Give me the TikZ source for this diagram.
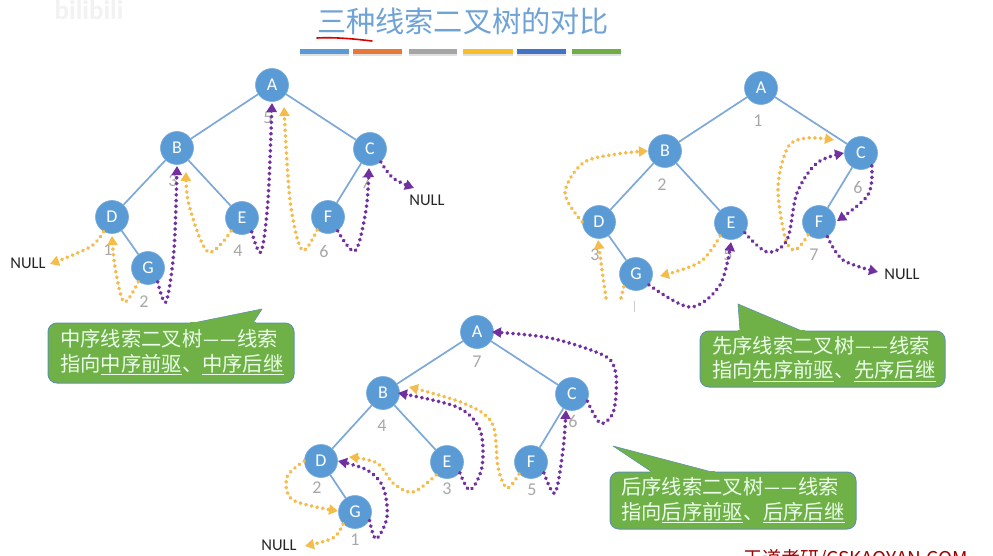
\documentclass[tikz,border=0pt]{standalone}
\usepackage{fontspec}
\setmainfont{Carlito}
\newfontfamily\cjk{Noto Sans CJK SC}
\usetikzlibrary{arrows.meta}
\definecolor{nodeblue}{HTML}{5B9BD5}
\definecolor{edgeblue}{HTML}{7DA9D8}
\definecolor{thy}{HTML}{F5BC4A}
\definecolor{thp}{HTML}{7030A0}
\definecolor{numgray}{HTML}{A8A8A8}
\definecolor{boxgreen}{HTML}{70B147}
\definecolor{boxline}{HTML}{5F93A8}
\definecolor{titleblue}{HTML}{6FA3D6}
\newcommand{\twodash}{\makebox[17.4pt]{\scalebox{.88}[1]{—}}\makebox[17.4pt]{\scalebox{.88}[1]{—}}}
\tikzset{
 x=1pt,y=-1pt,
 tn/.style={circle,fill=nodeblue,draw=nodeblue!85!white,line width=.6pt,minimum size=33pt,inner sep=0pt,text=white,font=\fontsize{18}{18}\selectfont},
 te/.style={edgeblue,line width=1.7pt},
 thr/.style={line width=3.8pt,line cap=round,dash pattern=on 0.3pt off 5.4pt,smooth,tension=.55},
 yt/.style={thr,thy,-{Triangle[length=9pt,width=10pt]}},
 pt/.style={thr,thp,-{Triangle[length=9pt,width=10pt]}},
 num/.style={text=numgray,font=\fontsize{18}{18}\selectfont,inner sep=0pt},
 nul/.style={text=black!85,font=\fontsize{16.5}{16.5}\selectfont,inner sep=0pt},
 box/.style={fill=boxgreen,draw=boxline,line width=1pt,rounded corners=9pt},
 ptr/.style={fill=boxgreen,draw=boxline,line width=.6pt,line join=round},
 ptrf/.style={fill=boxgreen,draw=none},
 btxt/.style={text=white!92!green,inner sep=0pt,align=left,font=\cjk\fontsize{20.3}{24.5}\selectfont},
}
\begin{document}
\begin{tikzpicture}
\useasboundingbox (0,0) rectangle (993,556);
\clip (0,0) rectangle (993,556);
\fill[white] (0,0) rectangle (993,556);
% faint logo
\node[text=black!5,font=\bfseries\fontsize{27}{27}\selectfont,inner sep=0pt] (logo) at (89,10) {bilibili};
% title
\node[text=titleblue,font=\cjk\fontsize{29.2}{29.2}\selectfont,inner sep=0pt] (title) at (463,21) {三种线索二叉树的对比};
\draw[red!85!black,line width=1.6pt,line cap=round] (317,38) .. controls (335,37) and (355,39) .. (372,41);
\foreach \a/\b/\c in {300/349/5B9BD5,353/402/E4793A,409/457/A5A5A5,463/513/F6BE2B,517/566/4472C4,572/621/70AD47}{
 \definecolor{barc}{HTML}{\c}
 \fill[black!12] (\a,52.5) rectangle (\b,56.5);
 \fill[barc] (\a,49.5) rectangle (\b,54.5);
}
% ---------- tree 1
\node[tn] (A1) at (272,85) {A};
\node[tn] (B1) at (177,148) {B};
\node[tn] (C1) at (370,149) {C};
\node[tn] (D1) at (112,217) {D};
\node[tn] (E1) at (242,218) {E};
\node[tn] (F1) at (328,217) {F};
\node[tn] (G1) at (148,268) {G};
\draw[te] (A1)--(B1) (A1)--(C1) (B1)--(D1) (B1)--(E1) (C1)--(F1) (D1)--(G1);
\foreach \n/\t/\x/\y in {a/1/108/250,b/2/144/302,c/3/173/181,d/4/238/251,e/5/268/118,f/6/324/251,g/7/366/183}
 \node[num] (n1\n) at (\x,\y) {\t};
\node[nul] (nulla) at (28,263) {NULL};
\node[nul] (nullb) at (427,200) {NULL};
\coordinate (ya) at (50,264);
\coordinate (pa) at (414,188);
\draw[yt] plot coordinates {(D1.-120) (90,247) (ya)};
\draw[yt] plot coordinates {(G1.-125) (124,302) (115,267) (112,236)};
\draw[yt] plot coordinates {(E1.-130) (208,252) (189,205) (186,172)};
\draw[yt] plot coordinates {(F1.-130) (302,250) (290,200) (284,107)};
\draw[pt] plot coordinates {(G1.-55) (166,302) (174,250) (177,166)};
\draw[pt] plot coordinates {(E1.-55) (261,252) (268,200) (272,103)};
\draw[pt] plot coordinates {(F1.-55) (355,251) (366,210) (369,168)};
\draw[pt] plot coordinates {(C1.-50) (393,178) (pa)};
% ---------- tree 2
\node[tn] (A2) at (761,88) {A};
\node[tn] (B2) at (665,151) {B};
\node[tn] (C2) at (861,153) {C};
\node[tn] (D2) at (599,222) {D};
\node[tn] (E2) at (731,223) {E};
\node[tn] (F2) at (819,222) {F};
\node[tn] (G2) at (636,274) {G};
\draw[te] (A2)--(B2) (A2)--(C2) (B2)--(D2) (B2)--(E2) (C2)--(F2) (D2)--(G2);
\foreach \n/\t/\x/\y in {a/1/758/121,b/2/662/185,c/3/595/255,e/5/728/255,f/6/858/187,g/7/814/255}
 \node[num] (n2\n) at (\x,\y) {\t};
\draw[numgray!60,line width=.7pt] (634.5,301) -- (634.5,312);
\node[nul] (nullc) at (902,274) {NULL};
\coordinate (yb) at (660,276);
\coordinate (yc) at (834,140);
\coordinate (yd) at (606,298);
\coordinate (ye) at (621,298);
\coordinate (pb) at (878,272);
\draw[yt] plot coordinates {(D2.180) (565,193) (583,163) (617,154) (648,151)};
\draw[yt] plot coordinates {(yd) (602,270) (598,240)};
\draw[thr,thy] plot coordinates {(ye) (624,286)};
\draw[yt] plot coordinates {(E2.-130) (700,262) (yb)};
\draw[yt] plot coordinates {(F2.-130) (795,250) (785,237) (778,187) (788,147) (807,138) (yc)};
\draw[pt] plot coordinates {(E2.-35) (767,252) (787,240) (797,193) (817,163) (844,153)};
\draw[pt] plot coordinates {(G2.-40) (690,307) (720,285) (731,242)};
\draw[pt] plot coordinates {(C2.-50) (868,195) (837,221)};
\draw[pt] plot coordinates {(F2.-60) (843,260) (pb)};
% ---------- tree 3
\node[tn] (A3) at (477,332) {A};
\node[tn] (B3) at (383,393) {B};
\node[tn] (C3) at (572,394) {C};
\node[tn] (D3) at (321,461) {D};
\node[tn] (E3) at (447,462) {E};
\node[tn] (F3) at (531,462) {F};
\node[tn] (G3) at (355,512) {G};
\draw[te] (A3)--(B3) (A3)--(C3) (B3)--(D3) (B3)--(E3) (C3)--(F3) (D3)--(G3);
\foreach \n/\t/\x/\y in {a/1/355/540,b/2/317/488,c/3/447/489,d/4/382/426,e/5/532/490,f/6/573/421,g/7/477/362}
 \node[num] (n3\n) at (\x,\y) {\t};
\node[nul] (nulld) at (279,545) {NULL};
\coordinate (yf) at (305,546);
\coordinate (yg) at (349,457);
\coordinate (yh) at (409,387);
\draw[yt] plot coordinates {(D3.180) (287,477) (293,500) (338,511)};
\draw[yt] plot coordinates {(G3.-135) (333,538) (yf)};
\draw[yt] plot coordinates {(E3.-130) (413,492) (393,483) (377,463) (yg)};
\draw[yt] plot coordinates {(F3.-135) (507,488) (498,467) (492,423) (463,403) (yh)};
\draw[pt] plot coordinates {(E3.-40) (470,490) (482,467) (480,430) (457,407) (398,393)};
\draw[pt] plot coordinates {(G3.-30) (376,539) (387,517) (383,487) (367,470) (338,461)};
\draw[pt] plot coordinates {(F3.-40) (555,493) (563,450) (566,410)};
\draw[pt] plot coordinates {(C3.-25) (600,423) (612,415) (616,395) (615,370) (603,355) (550,338) (492,332)};
% ---------- callouts
\draw[box] (48,323) rectangle (294,383);
\draw[ptr] (193,323) -- (262,309) -- (253,323);
\fill[ptrf] (190,322) -- (256,322) -- (256,325) -- (190,325) -- cycle;
\node[btxt,anchor=west] (t1) at (60,352.5) {中序线索二叉树\twodash{}线索\\指向\underline{中序前驱}、\underline{中序后继}};
\draw[box] (700,331) rectangle (945,387);
\draw[ptr] (740,331) -- (738,304) -- (802,331);
\fill[ptrf] (738,330) -- (805,330) -- (805,333) -- (738,333) -- cycle;
\node[btxt,anchor=west] (t2) at (712,359) {先序线索二叉树\twodash{}线索\\指向\underline{先序前驱}、\underline{先序后继}};
\draw[box] (610,472) rectangle (856,529);
\draw[ptr] (652,472) -- (613,446) -- (712,472);
\fill[ptrf] (650,471) -- (715,471) -- (715,474) -- (650,474) -- cycle;
\node[btxt,anchor=west] (t3) at (621,500.5) {后序线索二叉树\twodash{}线索\\指向\underline{后序前驱}、\underline{后序后继}};
% footer
\node[text=red!60!black,font=\cjk\fontsize{19}{19}\selectfont,anchor=west,inner sep=0pt] (foot) at (743,559) {王道考研/CSKAOYAN.COM};
\end{tikzpicture}
\end{document}
